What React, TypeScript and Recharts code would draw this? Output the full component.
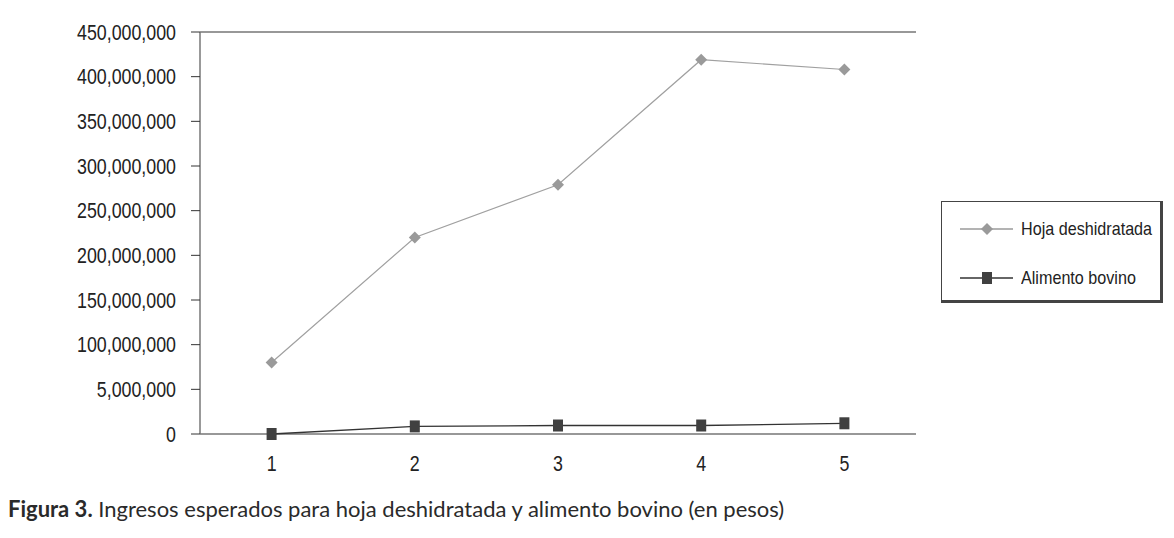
import React from 'react';
import {
  LineChart,
  Line,
  XAxis,
  YAxis,
  CartesianGrid,
  Legend,
} from 'recharts';

const periods = ['1', '2', '3', '4', '5'];
const hojaDeshidratada = [80000000, 220000000, 279000000, 419000000, 408000000];
const alimentoBovino = [0, 8500000, 9500000, 9500000, 12000000];
const yTicks = [0, 50000000, 100000000, 150000000, 200000000, 250000000, 300000000, 350000000, 400000000, 450000000];
// the original figure prints "5,000,000" at the 50M line, kept as is
const yTickLabels = ['0', '5,000,000', '100,000,000', '150,000,000', '200,000,000', '250,000,000', '300,000,000', '350,000,000', '400,000,000', '450,000,000'];
const boundaryTicks = [0, 1, 2, 3, 4, 5];
const legendOrder = ['hoja', 'alimento'];

const data = periods.map((p, i) => ({
  period: p,
  hoja: hojaDeshidratada[i],
  alimento: alimentoBovino[i],
}));

const FONT = '"Liberation Sans", Arial, sans-serif';
const NARROW = 0.81;

const Diamond = (props: any) => {
  const { cx, cy } = props;
  if (cx == null || cy == null) return null;
  const r = 6;
  return (
    <polygon
      points={`${cx},${cy - r} ${cx + r},${cy} ${cx},${cy + r} ${cx - r},${cy}`}
      fill="#9a9a9a"
    />
  );
};

const Square = (props: any) => {
  const { cx, cy } = props;
  if (cx == null || cy == null) return null;
  return <rect x={cx - 5} y={cy - 6} width={10} height={12} fill="#404040" />;
};

// narrow tick text (the original uses a condensed sans)
const NarrowTick = (props: any) => {
  const { x, y, payload, textAnchor, tickFormatter, index } = props;
  const label = tickFormatter ? tickFormatter(payload.value, index) : payload.value;
  return (
    <text
      transform={`translate(${x},${y}) scale(${NARROW},1)`}
      textAnchor={textAnchor}
      dominantBaseline="central"
      fill="#222"
      fontSize={22}
      fontFamily={FONT}
    >
      {label}
    </text>
  );
};

const LegendBox = ({ payload }: any) => {
  const items = legendOrder
    .map((k) => (payload || []).find((e: any) => e.dataKey === k))
    .filter(Boolean);
  return (
    <div
      style={{
        width: 222,
        height: 102,
        boxSizing: 'border-box',
        border: '1.5px solid #444',
        borderRightWidth: 3,
        borderBottomWidth: 3,
        background: '#fff',
        fontFamily: FONT,
        fontSize: 19,
        color: '#222',
        paddingTop: 2,
      }}
    >
      {items.map((entry: any) => {
        const isHoja = entry.dataKey === 'hoja';
        return (
          <div key={entry.dataKey} style={{ display: 'flex', alignItems: 'center', height: 49, whiteSpace: 'nowrap' }}>
            <svg width={70} height={20} style={{ marginLeft: 9, flex: 'none' }}>
              <line x1={9} y1={10} x2={62} y2={10} stroke={isHoja ? '#9a9a9a' : '#333'} strokeWidth={1.3} />
              {isHoja ? <Diamond cx={36} cy={10} /> : <Square cx={36} cy={10} />}
            </svg>
            <span style={{ display: 'inline-block', transform: 'scaleX(0.85)', transformOrigin: 'left center' }}>
              {entry.value}
            </span>
          </div>
        );
      })}
    </div>
  );
};

export default function App() {
  return (
    <div style={{ position: 'relative', width: 1158, height: 522, background: '#fff' }}>
      <LineChart
        width={1158}
        height={480}
        data={data}
        margin={{ top: 24, right: 250, left: 0, bottom: 14 }}
      >
        <CartesianGrid vertical={false} stroke="#333" strokeWidth={1.1} />
        <XAxis
          xAxisId="bounds"
          type="number"
          domain={[0, 5]}
          ticks={boundaryTicks}
          tickFormatter={() => ''}
          axisLine={{ stroke: '#222', strokeWidth: 1.5 }}
          tickLine={{ stroke: '#555' }}
          tickSize={8}
          height={0}
        />
        <XAxis
          xAxisId="cat"
          dataKey="period"
          scale="band"
          axisLine={false}
          tickLine={false}
          tickSize={0}
          tickMargin={29}
          height={40}
          tick={<NarrowTick />}
        />
        <YAxis
          yAxisId="left"
          width={192}
          domain={[0, 450000000]}
          ticks={yTicks}
          interval={0}
          tickFormatter={(v: number) => yTickLabels[yTicks.indexOf(v)]}
          axisLine={{ stroke: '#777', strokeWidth: 1.5 }}
          tickLine={{ stroke: '#333' }}
          tickSize={9}
          tickMargin={15}
          tick={<NarrowTick />}
        />
        <YAxis
          yAxisId="right"
          orientation="right"
          width={0}
          domain={[0, 450000000]}
          tick={false}
          tickLine={false}
          axisLine={{ stroke: '#777', strokeWidth: 1.5 }}
        />
        <Legend
          layout="vertical"
          align="center"
          verticalAlign="middle"
          wrapperStyle={{ left: 933, top: 193, width: 222, height: 102 }}
          content={<LegendBox />}
        />
        <Line
          xAxisId="cat"
          yAxisId="left"
          dataKey="hoja"
          name="Hoja deshidratada"
          stroke="#a0a0a0"
          strokeWidth={1.2}
          dot={<Diamond />}
          activeDot={false}
          isAnimationActive={false}
        />
        <Line
          xAxisId="cat"
          yAxisId="left"
          dataKey="alimento"
          name="Alimento bovino"
          stroke="#333"
          strokeWidth={1.3}
          dot={<Square />}
          activeDot={false}
          isAnimationActive={false}
        />
      </LineChart>
      <div
        style={{
          position: 'absolute',
          left: 0,
          top: 487,
          fontFamily: 'Lato, "Open Sans", sans-serif',
          fontSize: 22,
          color: '#2a2a2a',
          whiteSpace: 'nowrap',
        }}
      >
        <b>Figura 3.</b> Ingresos esperados para hoja deshidratada y alimento bovino (en pesos)
      </div>
    </div>
  );
}
